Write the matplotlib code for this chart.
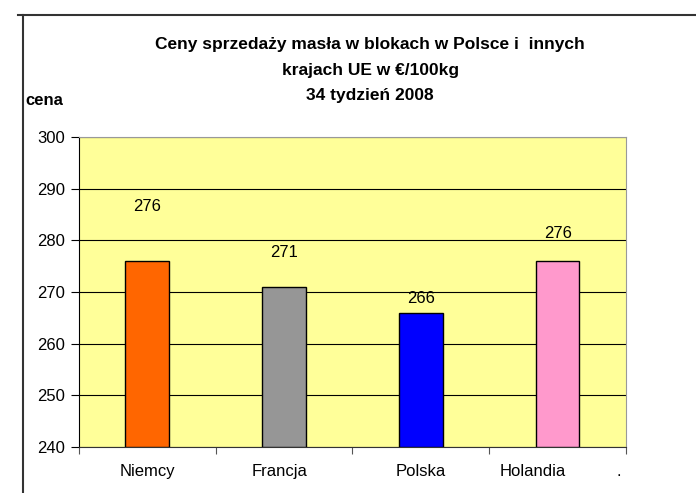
import matplotlib.pyplot as plt
from matplotlib.lines import Line2D

plt.rcParams['font.family'] = ['Liberation Sans', 'DejaVu Sans']

kraje = ['Niemcy', 'Francja', 'Polska', 'Holandia']
ceny = [276, 271, 266, 276]
kolory = ['#FF6600', '#969696', '#0000FF', '#FF99CC']
# where the value labels sit (data units), as placed in the original
etykiety_y = [286.5, 277.7, 268.8, 281.4]

fig = plt.figure(figsize=(6.96, 4.93), dpi=100)
ax = fig.add_axes([0.1135, 0.0933, 0.7859, 0.6288])
ax.set_facecolor('#FFFF99')

x = list(range(len(kraje)))
ax.bar(x, [c - 240 for c in ceny], bottom=240, width=0.32, color=kolory,
       edgecolor='black', linewidth=1, zorder=3)
for xi, c, ly in zip(x, ceny, etykiety_y):
    ax.text(xi, ly, str(c), ha='center', va='center', fontsize=12)

ax.set_xlim(-0.5, len(kraje) - 0.5)
ax.set_ylim(240, 300)
ax.set_yticks(range(240, 301, 10))
ax.yaxis.grid(True, color='black', linewidth=0.8, zorder=0)
ax.set_axisbelow(True)

# category ticks sit on the boundaries between bars
ax.set_xticks([i - 0.5 for i in range(len(kraje) + 1)])
ax.set_xticklabels([])
# labels as placed in the original (Holandia nudged left, stray "." at the end)
ax.set_xticks([0, 0.97, 2, 2.82, 3.45], minor=True)
ax.set_xticklabels(kraje + ['.'], minor=True, fontsize=12)
ax.tick_params(axis='x', which='minor', length=0, pad=12)
ax.tick_params(axis='x', which='major', length=5, color='#555555')
ax.tick_params(axis='y', length=6, labelsize=12, pad=4)

for s in ['top', 'right']:
    ax.spines[s].set_color('#999999')
ax.spines['left'].set_color('black')
ax.spines['bottom'].set_color('#333333')

fig.text(0.532, 0.91, 'Ceny sprzedaży masła w blokach w Polsce i  innych',
         ha='center', va='center', fontsize=12.5, fontweight='bold')
fig.text(0.532, 0.858, 'krajach UE w €/100kg', ha='center', va='center',
         fontsize=12.5, fontweight='bold')
fig.text(0.532, 0.807, '34 tydzień 2008', ha='center', va='center',
         fontsize=12.5, fontweight='bold')
fig.text(0.037, 0.797, 'cena', ha='left', va='center', fontsize=12,
         fontweight='bold')

# outer chart frame
fig.add_artist(Line2D([0.026, 1.0], [0.9696, 0.9696], color='#333333', linewidth=1.5))
fig.add_artist(Line2D([0.033, 0.033], [0.0, 0.9696], color='#333333', linewidth=1.5))

fig.savefig('out.png', dpi=100)
